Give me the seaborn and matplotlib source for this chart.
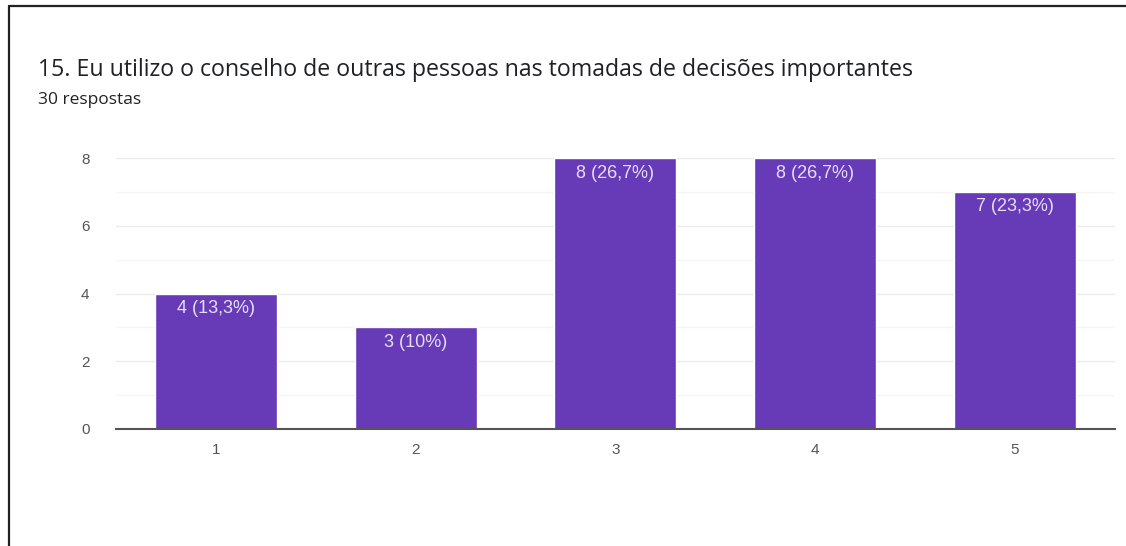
import matplotlib
matplotlib.use("Agg")
import matplotlib.pyplot as plt
import seaborn as sns
import pandas as pd
from matplotlib.lines import Line2D

categories = ["1", "2", "3", "4", "5"]
counts = [4, 3, 8, 8, 7]
pct_labels = ["4 (13,3%)", "3 (10%)", "8 (26,7%)", "8 (26,7%)", "7 (23,3%)"]
title = "15. Eu utilizo o conselho de outras pessoas nas tomadas de decisões importantes"
subtitle = "30 respostas"

sns.set_theme(style="white")
plt.rcParams['font.family'] = ['Liberation Sans', 'DejaVu Sans']

df = pd.DataFrame({"cat": categories, "n": counts})

fig = plt.figure(figsize=(11.26, 5.46), dpi=100)
ax = fig.add_axes([0.103, 0.2143, 0.887, 0.4963])

sns.barplot(data=df, x="cat", y="n", color="#673AB7", saturation=1, width=0.61, ax=ax, zorder=3)

ax.set_ylim(0, 8)
ax.set_xlim(-0.5, 4.5)
ax.set_yticks([0, 2, 4, 6, 8])
ax.set_yticks([1, 3, 5, 7], minor=True)
ax.grid(axis="y", which="major", color="#ebebeb", lw=1, zorder=0)
ax.grid(axis="y", which="minor", color="#f5f5f5", lw=1, zorder=0)
ax.set_xlabel("")
ax.set_ylabel("")
for s in ["top", "right", "left"]:
    ax.spines[s].set_visible(False)
ax.spines["bottom"].set_color("#555555")
ax.spines["bottom"].set_linewidth(1.5)
ax.spines["bottom"].set_zorder(4)
ax.tick_params(axis="both", length=0, labelsize=11, colors="#555555")
ax.tick_params(axis="y", pad=19)
ax.tick_params(axis="x", pad=10)

for cont in ax.containers:
    ax.bar_label(cont, labels=pct_labels, label_type="edge", padding=-17,
                 color="#e6def5", fontsize=13)

fig.text(0.034, 0.872, title, fontsize=16.7, color="#202124", va="center",
         family=["Open Sans", "DejaVu Sans"])
fig.text(0.034, 0.817, subtitle, fontsize=12.5, color="#202124", va="center",
         family=["Open Sans", "DejaVu Sans"])

# frame border (left and top)
fig.add_artist(Line2D([0.008, 0.008], [0.0, 0.989], transform=fig.transFigure, color="#222222", lw=1.6))
fig.add_artist(Line2D([0.008, 1.0], [0.989, 0.989], transform=fig.transFigure, color="#222222", lw=1.6))

fig.savefig("out.png", dpi=100)
